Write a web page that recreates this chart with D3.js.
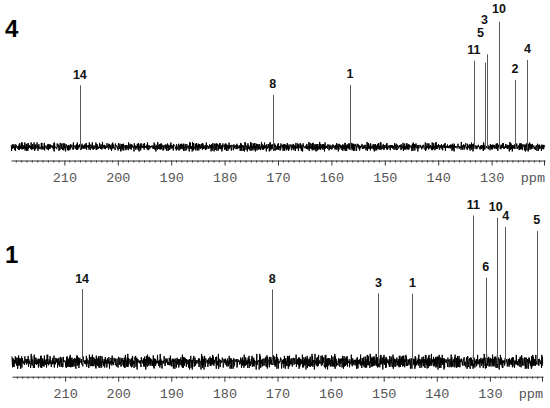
<!DOCTYPE html>
<html>
<head>
<meta charset="utf-8">
<script src="https://cdn.jsdelivr.net/npm/d3@7"></script>
<style>
  html, body { margin: 0; padding: 0; background: #fff; }
  svg { display: block; }
</style>
</head>
<body>
<svg id="chart" width="550" height="408"></svg>
<script>
// ---------- data ----------
const ppmDomain = [220, 120];
const tickValues = [210, 200, 190, 180, 170, 160, 150, 140, 130];
const tickLabels = ["210", "200", "190", "180", "170", "160", "150", "140", "130"];
const unitLabel = "ppm";

const panelNames = ["4", "1"];

// compound 4 (top)
const peaks4Labels = ["14", "8", "1", "11", "5", "3", "10", "2", "4"];
const peaks4Ppm    = [207.1, 171.0, 156.5, 133.3, 131.2, 130.9, 128.6, 125.6, 123.3];
const peaks4Int    = [49.1, 41.4, 49.4, 68.8, 67.2, 73.9, 100, 53.4, 69.4];

// compound 1 (bottom)
const peaks1Labels = ["14", "8", "3", "1", "11", "6", "10", "4", "5"];
const peaks1Ppm    = [206.8, 171.0, 151.0, 144.6, 133.1, 130.8, 128.7, 127.2, 121.2];
const peaks1Int    = [49.7, 49.5, 46.8, 46.5, 100, 57.5, 98.5, 92.3, 89.4];

// hand-typed baseline noise textures (digits 0-9)
const noiseA = "7302958146620391847253090618274356192850734612908437165208394721560938217460593182746059381726405";
const noiseB = "48163059271836402957136084251973604829153706948213570964182035791468025379164850326917485302";

// ---------- layout (positions / styles) ----------
const layout = [
  { baseline: 146.7, fullHeight: 125, axisY: 160.5, x0: 11, x1: 545, nameY: 37, noiseAmp: 1.0, noiseOffset: 0 },
  { baseline: 361.7, fullHeight: 146.2, axisY: 376.7, x0: 12, x1: 543, nameY: 263, noiseAmp: 1.65, noiseOffset: 37 }
];
// label placement tweaks: [dx, extra lift]
const labelTweaks = [
  { "5": [-4.6, 19], "3": [-2.4, 24], "10": [0, 2.5] },
  { "4": [1, 0], "10": [-1, 0] }
];

const svg = d3.select("#chart");

const panelData = [
  { labels: peaks4Labels, ppm: peaks4Ppm, inten: peaks4Int },
  { labels: peaks1Labels, ppm: peaks1Ppm, inten: peaks1Int }
];

panelData.forEach((pd, pi) => {
  const L = layout[pi];
  const x = d3.scaleLinear().domain(ppmDomain).range([L.x0, L.x1]);
  const y = d3.scaleLinear().domain([0, 100]).range([L.baseline, L.baseline - L.fullHeight]);
  const g = svg.append("g");

  // noise baseline (texture from two hand-typed digit strings)
  const step = 0.3;
  const pts = [];
  let k = 0;
  for (let px = L.x0; px <= L.x1; px += step, k++) {
    const a = noiseA.charCodeAt((k + L.noiseOffset) % noiseA.length) - 48;
    const b = noiseB.charCodeAt((k + 3 * L.noiseOffset) % noiseB.length) - 48;
    const v = (a - 4.5) * 0.6 + (b - 4.5) * 0.45;
    pts.push([px, L.baseline - v * L.noiseAmp]);
  }
  g.append("path")
    .attr("d", d3.line()(pts))
    .attr("fill", "none")
    .attr("stroke", "#000")
    .attr("stroke-width", 1);

  // peaks
  const peaks = pd.labels.map((lab, i) => ({ lab, ppm: pd.ppm[i], v: pd.inten[i] }));
  g.selectAll("line.peak").data(peaks).join("line")
    .attr("class", "peak")
    .attr("x1", d => Math.round(x(d.ppm)) + 0.5)
    .attr("x2", d => Math.round(x(d.ppm)) + 0.5)
    .attr("y1", y(0) + 2)
    .attr("y2", d => y(d.v))
    .attr("stroke", "#5a5a5a")
    .attr("stroke-width", 1);

  g.selectAll("text.plab").data(peaks).join("text")
    .attr("class", "plab")
    .attr("x", d => x(d.ppm) + ((labelTweaks[pi][d.lab] || [0, 0])[0]))
    .attr("y", d => y(d.v) - 6.5 - ((labelTweaks[pi][d.lab] || [0, 0])[1]))
    .attr("text-anchor", "middle")
    .attr("font-family", "'Liberation Sans', Arial, sans-serif")
    .attr("font-weight", "bold")
    .attr("font-size", 12.5)
    .attr("fill", "#111")
    .text(d => d.lab);

  // axis
  const axis = d3.axisBottom(x)
    .tickValues(tickValues)
    .tickFormat((d, i) => tickLabels[i])
    .tickSize(5)
    .tickSizeOuter(0);
  const ag = g.append("g").attr("transform", `translate(0,${L.axisY})`).call(axis);
  ag.select(".domain").attr("stroke", "#333");
  ag.selectAll(".tick line").attr("stroke", "#333");
  ag.selectAll(".tick text")
    .attr("font-family", "'Liberation Mono', 'Courier New', monospace")
    .attr("font-size", 13.5)
    .attr("fill", "#555")
    .attr("dy", null)
    .attr("y", 21.5);

  // minor ticks every 1 ppm
  const minor = d3.range(ppmDomain[1] + 1, ppmDomain[0]).filter(v => v % 10 !== 0);
  g.append("g").selectAll("line").data(minor).join("line")
    .attr("x1", d => x(d)).attr("x2", d => x(d))
    .attr("y1", L.axisY).attr("y2", L.axisY + 2)
    .attr("stroke", "#333").attr("stroke-width", 1);
  // end tick at 120
  g.append("line")
    .attr("x1", x(120) - 0.5).attr("x2", x(120) - 0.5)
    .attr("y1", L.axisY).attr("y2", L.axisY + 5)
    .attr("stroke", "#333");

  g.append("text")
    .attr("x", L.x1)
    .attr("y", L.axisY + 21.5)
    .attr("text-anchor", "end")
    .attr("font-family", "'Liberation Mono', 'Courier New', monospace")
    .attr("font-size", 13.5)
    .attr("fill", "#555")
    .text(unitLabel);

  // panel name
  svg.append("text")
    .attr("x", 5)
    .attr("y", L.nameY)
    .attr("font-family", "'Liberation Sans', Arial, sans-serif")
    .attr("font-weight", "bold")
    .attr("font-size", 24)
    .attr("fill", "#000")
    .text(panelNames[pi]);
});
</script>
</body>
</html>
